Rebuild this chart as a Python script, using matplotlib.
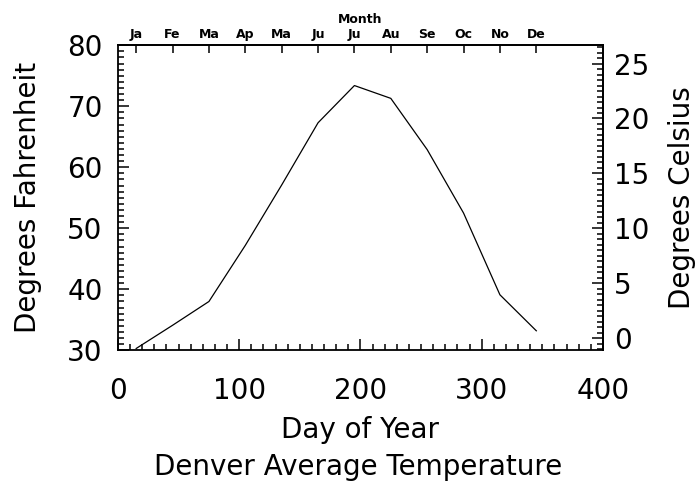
import numpy as np
import matplotlib
matplotlib.use("Agg")
import matplotlib.pyplot as plt
from matplotlib.ticker import MultipleLocator, FixedLocator

# mid-month day of year and average temperature (F)
days = [15, 45, 75, 105, 135, 165, 195, 225, 255, 285, 315, 345]
temp_f = [30.3, 34.1, 38.0, 47.2, 57.1, 67.3, 73.4, 71.3, 62.9, 52.5, 39.1, 33.2]
months = ['Ja', 'Fe', 'Ma', 'Ap', 'Ma', 'Ju', 'Ju', 'Au', 'Se', 'Oc', 'No', 'De']

plt.rcParams['font.family'] = ['DejaVu Sans']
big = 20

fig = plt.figure(figsize=(6.97, 4.87), dpi=100)
ax = fig.add_axes([0.1693, 0.2807, 0.6958, 0.6263])

ax.plot(days, temp_f, color='black', lw=0.9)
ax.set_xlim(0, 400)
ax.set_ylim(30, 80)

for s in ax.spines.values():
    s.set_linewidth(1.3)

ax.xaxis.set_major_locator(MultipleLocator(100))
ax.xaxis.set_minor_locator(MultipleLocator(10))
ax.yaxis.set_major_locator(MultipleLocator(10))
ax.yaxis.set_minor_locator(MultipleLocator(1))
ax.tick_params(which='both', direction='in', top=False, right=False, labelsize=big, width=1.1)
ax.tick_params(which='major', length=8)
ax.tick_params(which='minor', length=4)
ax.tick_params(axis='x', pad=19)
ax.tick_params(axis='y', pad=11)

ax.set_xlabel('Day of Year', fontsize=big, labelpad=8)
ax.set_ylabel('Degrees Fahrenheit', fontsize=big, labelpad=18)

# Celsius axis on the right
sec = ax.secondary_yaxis('right', functions=(lambda f: (f - 32) * 5 / 9, lambda c: c * 9 / 5 + 32))
sec.yaxis.set_major_locator(MultipleLocator(5))
sec.yaxis.set_minor_locator(MultipleLocator(0.5))
sec.tick_params(which='both', direction='in', labelsize=big, width=1.1, pad=8)
sec.tick_params(which='major', length=8)
sec.tick_params(which='minor', length=4)
sec.set_ylabel('Degrees Celsius', fontsize=big, labelpad=13)
sec.spines['right'].set_linewidth(1.3)

# month axis on top
top = ax.secondary_xaxis('top')
top.xaxis.set_major_locator(FixedLocator(days))
top.set_xticklabels(months, fontsize=9, fontweight='bold')
top.tick_params(direction='in', length=6, width=1.1, pad=3)
top.set_xlabel('Month', fontsize=9, fontweight='bold', labelpad=4)
top.spines['top'].set_linewidth(1.3)

fig.text(0.5135, 0.041, 'Denver Average Temperature', ha='center', va='center', fontsize=big)

fig.savefig('out.png', dpi=100)
